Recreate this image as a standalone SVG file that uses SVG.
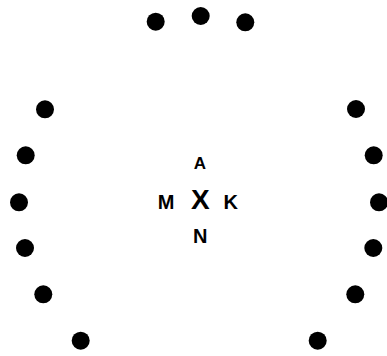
<svg xmlns="http://www.w3.org/2000/svg" width="387" height="356" viewBox="0 0 387 356">
<style>
.d{fill:#000}
.t{font-family:"Liberation Sans",Arial,sans-serif;font-weight:bold;fill:#000;text-anchor:middle}
</style>
<rect width="387" height="356" fill="#fff"/>
<g id="dots">
<circle class="d" cx="155.7" cy="21.7" r="9"/>
<circle class="d" cx="200.7" cy="16" r="9"/>
<circle class="d" cx="245.3" cy="22.3" r="9"/>
<circle class="d" cx="45" cy="109.3" r="9"/>
<circle class="d" cx="25.7" cy="155.3" r="9"/>
<circle class="d" cx="19" cy="202.3" r="9"/>
<circle class="d" cx="25" cy="248" r="9"/>
<circle class="d" cx="43.3" cy="294.3" r="9"/>
<circle class="d" cx="80.7" cy="340.7" r="9"/>
<circle class="d" cx="356" cy="109" r="9"/>
<circle class="d" cx="373.7" cy="155.3" r="9"/>
<circle class="d" cx="379" cy="202.3" r="9"/>
<circle class="d" cx="373.3" cy="248" r="9"/>
<circle class="d" cx="355.3" cy="294.3" r="9"/>
<circle class="d" cx="317.7" cy="340.7" r="9"/>
</g>
<g id="labels">
<text class="t" x="200" y="168.5" font-size="17">A</text>
<text class="t" x="166" y="209" font-size="20">M</text>
<text class="t" x="200.3" y="209" font-size="28">X</text>
<text class="t" x="230.7" y="209" font-size="20">K</text>
<text class="t" x="200.3" y="243" font-size="20">N</text>
</g>
</svg>
